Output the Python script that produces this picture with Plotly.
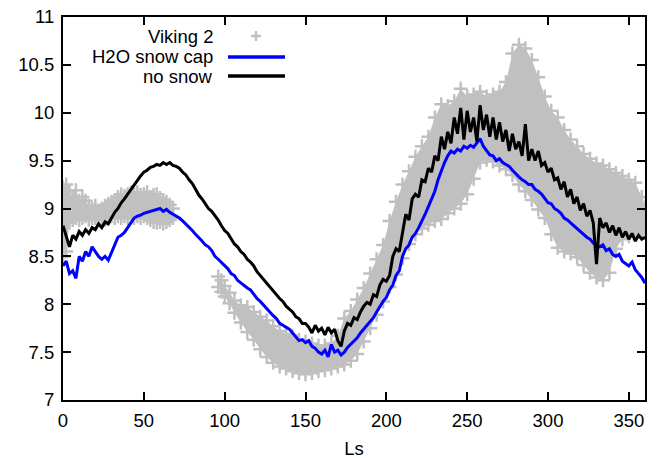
import plotly.graph_objects as go

# ---------------- data ----------------
ls_model = list(range(0, 361, 2))

no_snow = [8.82, 8.7, 8.6, 8.72, 8.68, 8.76, 8.72, 8.78, 8.74, 8.8,
           8.78, 8.84, 8.8, 8.86, 8.84, 8.9, 8.96, 9.0, 9.06, 9.1,
           9.15, 9.2, 9.24, 9.3, 9.34, 9.38, 9.4, 9.43, 9.44, 9.46,
           9.45, 9.48, 9.46, 9.48, 9.45, 9.44, 9.42, 9.38, 9.35, 9.3,
           9.26, 9.2, 9.14, 9.1, 9.05, 9.0, 8.97, 8.93, 8.88, 8.82,
           8.77, 8.74, 8.68, 8.63, 8.6, 8.55, 8.52, 8.47, 8.44, 8.4,
           8.34, 8.3, 8.25, 8.22, 8.18, 8.14, 8.1, 8.06, 8.03, 7.98,
           7.95, 7.92, 7.87, 7.85, 7.8, 7.8, 7.76, 7.7, 7.78, 7.72,
           7.75, 7.68, 7.76, 7.7, 7.74, 7.62, 7.56, 7.72, 7.8, 7.78,
           7.86, 7.84, 7.92, 7.98, 8.02, 8.0, 8.1, 8.08, 8.2, 8.26,
           8.24, 8.3, 8.5, 8.58, 8.55, 8.75, 8.94, 8.88, 9.1, 9.15,
           9.12, 9.3, 9.28, 9.42, 9.38, 9.55, 9.5, 9.75, 9.62, 9.8,
           9.68, 9.95, 9.78, 10.05, 9.72, 10.02, 9.8, 9.95, 9.7, 10.08,
           9.82, 9.98, 9.75, 9.95, 9.72, 9.9, 9.7, 9.82, 9.6, 9.78,
           9.62, 9.7, 9.55, 9.88, 9.5, 9.62, 9.5, 9.6, 9.45, 9.48,
           9.38, 9.42, 9.3, 9.32, 9.2, 9.28, 9.12, 9.2, 9.05, 9.12,
           8.98, 9.05, 8.92, 8.98, 8.85, 8.42, 8.9, 8.8, 8.85, 8.75,
           8.82, 8.72, 8.8, 8.7, 8.76, 8.68, 8.74, 8.66, 8.72, 8.68,
           8.7]

snow_cap = [8.4, 8.45, 8.32, 8.35, 8.27, 8.5, 8.45, 8.55, 8.5, 8.6,
            8.55, 8.5, 8.47, 8.5, 8.46, 8.55, 8.62, 8.7, 8.72, 8.75,
            8.8, 8.85, 8.9, 8.92, 8.93, 8.95, 8.96, 8.97, 8.98, 8.99,
            9.0, 8.97, 8.99, 8.96, 8.94, 8.92, 8.9, 8.87, 8.84, 8.8,
            8.77, 8.73, 8.7, 8.66, 8.62, 8.6, 8.56, 8.5, 8.47, 8.44,
            8.4, 8.37, 8.32, 8.3, 8.25, 8.22, 8.2, 8.17, 8.15, 8.1,
            8.06, 8.03, 7.99, 7.95, 7.92, 7.88, 7.85, 7.8, 7.78, 7.76,
            7.74, 7.7, 7.66, 7.62, 7.63, 7.6, 7.62, 7.56, 7.54, 7.5,
            7.48, 7.52, 7.45, 7.58, 7.5, 7.52, 7.47, 7.5, 7.55, 7.58,
            7.62, 7.65, 7.7, 7.74, 7.78, 7.82, 7.86, 7.92, 7.98, 8.03,
            8.07, 8.15, 8.2, 8.3, 8.35, 8.5, 8.58, 8.62, 8.7, 8.74,
            8.8, 8.88, 8.94, 9.02, 9.1, 9.18, 9.3, 9.4, 9.48, 9.55,
            9.6, 9.58, 9.62, 9.6, 9.65, 9.63, 9.66, 9.64, 9.68, 9.73,
            9.65, 9.6, 9.56, 9.55, 9.5, 9.52, 9.48, 9.46, 9.44, 9.4,
            9.36, 9.33, 9.3, 9.28, 9.25, 9.25, 9.2, 9.18, 9.15, 9.1,
            9.06, 9.05, 9.0, 8.98, 8.95, 8.9, 8.88, 8.85, 8.82, 8.78,
            8.76, 8.72, 8.7, 8.68, 8.64, 8.62, 8.6, 8.62, 8.56, 8.58,
            8.52, 8.5, 8.52, 8.45, 8.42, 8.4, 8.44, 8.36, 8.32, 8.28,
            8.22]

# Viking 2 observations: lower / upper envelope of the scatter band
vk_ls_a = [0, 2, 4, 6, 8, 10, 12, 14, 16, 18, 20, 22, 24, 26, 28, 30, 32, 34,
           36, 38, 40, 42, 44, 46, 48, 50, 52, 54, 56, 58, 60, 62, 64, 66, 68]
vk_lo_a = [8.5, 8.55, 8.85, 8.88, 8.9, 8.88, 8.9, 8.92, 8.88, 8.9, 8.9, 8.88,
           8.9, 8.88, 8.9, 8.92, 8.9, 8.92, 8.9, 8.92, 8.9, 8.92, 8.9, 8.92,
           8.9, 8.92, 8.9, 8.88, 8.86, 8.85, 8.86, 8.84, 8.86, 8.88, 8.9]
vk_hi_a = [9.22, 9.25, 9.17, 9.12, 9.19, 9.08, 9.12, 9.08, 9.03, 9.0, 9.03,
           8.98, 9.0, 9.03, 9.05, 9.07, 9.09, 9.12, 9.15, 9.13, 9.15, 9.17,
           9.15, 9.17, 9.14, 9.15, 9.17, 9.12, 9.14, 9.15, 9.11, 9.09, 9.07,
           9.04, 9.0]

vk_ls_b = [96, 98, 100, 103, 106, 110, 114, 118, 122, 126, 130, 134, 138, 142,
           146, 150, 154, 158, 162, 166, 170, 174, 178, 182, 186, 190, 194,
           198, 202, 206, 210, 214, 218, 222, 226, 230, 234, 238, 242, 246,
           250, 254, 258, 262, 266, 270, 274, 278, 282, 286, 290, 294, 298,
           302, 306, 310, 314, 318, 322, 326, 330, 334, 338, 342, 346, 350,
           354, 358, 360]
vk_lo_b = [8.18, 8.13, 8.08, 8.01, 7.91, 7.81, 7.71, 7.63, 7.53, 7.45, 7.39,
           7.35, 7.33, 7.3, 7.28, 7.27, 7.28, 7.3, 7.31, 7.33, 7.35, 7.37,
           7.41, 7.48, 7.61, 7.75, 7.89, 8.03, 8.18, 8.31, 8.48, 8.63, 8.73,
           8.79, 8.83, 8.87, 8.89, 8.95, 9.0, 9.05, 9.15, 9.31, 9.48, 9.51,
           9.49, 9.45, 9.41, 9.35, 9.25, 9.18, 9.09, 8.99, 8.9, 8.73, 8.59,
           8.55, 8.53, 8.49, 8.41, 8.33, 8.28, 8.25, 8.33, 8.58, 8.68, 8.71,
           8.73, 8.73, 8.75]
vk_hi_b = [8.29, 8.25, 8.19, 8.12, 8.04, 7.99, 7.97, 7.92, 7.87, 7.83, 7.77,
           7.72, 7.69, 7.67, 7.63, 7.61, 7.59, 7.57, 7.57, 7.59, 7.67, 7.85,
           7.93, 8.05, 8.17, 8.32, 8.47, 8.62, 8.87, 9.07, 9.25, 9.39, 9.54,
           9.65, 9.75, 9.95, 10.09, 10.07, 10.12, 10.25, 10.17, 10.19, 10.22,
           10.17, 10.19, 10.22, 10.32, 10.62, 10.71, 10.67, 10.55, 10.37,
           10.17, 10.02, 9.95, 9.82, 9.72, 9.65, 9.57, 9.52, 9.47, 9.45, 9.41,
           9.37, 9.34, 9.3, 9.27, 9.12, 9.02]

x_ticks = [0, 50, 100, 150, 200, 250, 300, 350]
y_ticks = [7, 7.5, 8, 8.5, 9, 9.5, 10, 10.5, 11]
y_tick_text = ["7", "7.5", "8", "8.5", "9", "9.5", "10", "10.5", "11"]

GREY = "#c0c0c0"
FONT = "Liberation Sans, Arial, sans-serif"
FS = 18.5

# ---------------- figure ----------------
fig = go.Figure()

# Viking 2 band (filled) built from the envelopes
band_x = vk_ls_a + vk_ls_a[::-1] + [None] + vk_ls_b + vk_ls_b[::-1]
band_y = vk_lo_a + vk_hi_a[::-1] + [None] + vk_lo_b + vk_hi_b[::-1]
fig.add_trace(go.Scatter(x=band_x, y=band_y, mode="lines", fill="toself",
                         fillcolor=GREY, line=dict(width=0, color=GREY),
                         hoverinfo="skip", showlegend=False))
fig.add_trace(go.Scatter(x=vk_ls_a + vk_ls_a + vk_ls_b + vk_ls_b,
                         y=vk_lo_a + vk_hi_a + vk_lo_b + vk_hi_b,
                         mode="markers", name="Viking 2", showlegend=False,
                         marker=dict(symbol="cross-thin", size=10,
                                     line=dict(width=2.5, color=GREY),
                                     color=GREY)))
fig.add_trace(go.Scatter(x=ls_model, y=snow_cap, mode="lines",
                         name="H2O snow cap", showlegend=False,
                         line=dict(color="#0000ff", width=3)))
fig.add_trace(go.Scatter(x=ls_model, y=no_snow, mode="lines",
                         name="no snow", showlegend=False,
                         line=dict(color="#000000", width=3)))

# manual gnuplot-style legend (text right-aligned, sample on the right)
PLOT_W = 582.0
PLOT_H = 383.0
def py(px_from_top):
    return 1.0 - px_from_top / PLOT_H

leg_x_text = 0.262
leg_rows = [("Viking 2", py(19)), ("H2O snow cap", py(40)), ("no snow", py(59))]
for txt, yy in leg_rows:
    fig.add_annotation(x=leg_x_text, y=yy, xref="paper", yref="paper",
                       text=txt, showarrow=False, xanchor="right",
                       yanchor="middle",
                       font=dict(family=FONT, size=FS, color="#000000"))
# grey plus sample
px_w = 1.0 / PLOT_W
py_h = 1.0 / PLOT_H
cx, cy = 0.3316, leg_rows[0][1]
fig.add_shape(type="line", xref="paper", yref="paper",
              x0=cx - 5 * px_w, x1=cx + 5 * px_w, y0=cy, y1=cy,
              line=dict(color=GREY, width=2.5))
fig.add_shape(type="line", xref="paper", yref="paper",
              x0=cx, x1=cx, y0=cy - 5 * py_h, y1=cy + 5 * py_h,
              line=dict(color=GREY, width=2.5))
fig.add_shape(type="line", xref="paper", yref="paper",
              x0=0.2835, x1=0.3814, y0=leg_rows[1][1], y1=leg_rows[1][1],
              line=dict(color="#0000ff", width=3.5))
fig.add_shape(type="line", xref="paper", yref="paper",
              x0=0.2835, x1=0.3814, y0=leg_rows[2][1], y1=leg_rows[2][1],
              line=dict(color="#000000", width=3.5))

# the page body adds an 8 px offset; margins compensate for it
fig.update_layout(
    template="none",
    width=657, height=458,
    margin=dict(l=55, r=20, t=9, b=66, autoexpand=False),
    paper_bgcolor="white", plot_bgcolor="white",
    font=dict(family=FONT, size=FS, color="#000000"),
    showlegend=False,
)
fig.update_xaxes(range=[0, 360], tickvals=x_ticks, ticks="inside",
                 ticklen=8, tickwidth=2, tickcolor="black",
                 showline=True, linewidth=2, linecolor="black",
                 mirror="ticks", showgrid=False, zeroline=False,
                 automargin=False, ticklabeloverflow="allow",
                 ticklabelstandoff=3,
                 tickfont=dict(family=FONT, size=FS),
                 title=dict(text="Ls", font=dict(family=FONT, size=FS),
                            standoff=12))
fig.update_yaxes(range=[7, 11], tickvals=y_ticks, ticktext=y_tick_text,
                 ticks="inside", ticklen=8, tickwidth=2, tickcolor="black",
                 showline=True, linewidth=2, linecolor="black",
                 mirror="ticks", showgrid=False, zeroline=False,
                 automargin=False, ticklabeloverflow="allow",
                 ticklabelstandoff=3,
                 tickfont=dict(family=FONT, size=FS))

fig.write_html("out.html")
